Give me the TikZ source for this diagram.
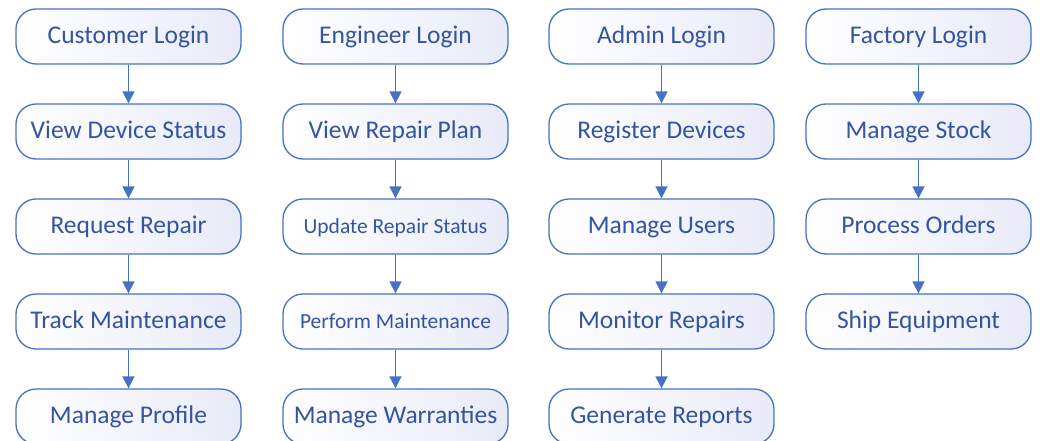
\documentclass[tikz,border=0pt]{standalone}
\usepackage{fontspec}
\setmainfont{Carlito}
\usetikzlibrary{arrows.meta}
\definecolor{bord}{RGB}{68,114,196}
\definecolor{txt}{RGB}{52,84,160}
\definecolor{fillr}{RGB}{232,235,248}
\tikzset{
  stepbox/.style={draw=bord, line width=1.3pt, rounded corners=20pt,
    minimum width=225pt, minimum height=55pt, inner sep=0pt,
    text height=18.5pt, text depth=4pt,
    left color=white, right color=fillr, text=txt, font=\fontsize{25.5}{28}\selectfont},
  smalltext/.style={font=\fontsize{21.5}{24}\selectfont, text height=16.5pt, text depth=3.5pt},
  conn/.style={draw=bord, line width=1.6pt, -{Triangle[width=12pt,length=12pt]}}
}
\begin{document}
\begin{tikzpicture}[x=1pt,y=-1pt]
\useasboundingbox (0,0) rectangle (1040,441);
% column 1
\node[stepbox] (c1) at (128.5,36.5) {Customer Login};
\node[stepbox] (c2) at (128.5,131.5) {View Device Status};
\node[stepbox] (c3) at (128.5,226.5) {Request Repair};
\node[stepbox] (c4) at (128.5,321.5) {Track Maintenance};
\node[stepbox] (c5) at (128.5,416.5) {Manage Profile};
% column 2
\node[stepbox] (e1) at (395.5,36.5) {Engineer Login};
\node[stepbox] (e2) at (395.5,131.5) {View Repair Plan};
\node[stepbox, smalltext] (e3) at (395.5,226.5) {Update Repair Status};
\node[stepbox, smalltext] (e4) at (395.5,321.5) {Perform Maintenance};
\node[stepbox] (e5) at (395.5,416.5) {Manage Warranties};
% column 3
\node[stepbox] (a1) at (661.5,36.5) {Admin Login};
\node[stepbox] (a2) at (661.5,131.5) {Register Devices};
\node[stepbox] (a3) at (661.5,226.5) {Manage Users};
\node[stepbox] (a4) at (661.5,321.5) {Monitor Repairs};
\node[stepbox] (a5) at (661.5,416.5) {Generate Reports};
% column 4
\node[stepbox] (f1) at (918.5,36.5) {Factory Login};
\node[stepbox] (f2) at (918.5,131.5) {Manage Stock};
\node[stepbox] (f3) at (918.5,226.5) {Process Orders};
\node[stepbox] (f4) at (918.5,321.5) {Ship Equipment};
% connectors
\foreach \p in {c,e,a}{
  \draw[conn] (\p1) -- (\p2);
  \draw[conn] (\p2) -- (\p3);
  \draw[conn] (\p3) -- (\p4);
  \draw[conn] (\p4) -- (\p5);
}
\draw[conn] (f1) -- (f2);
\draw[conn] (f2) -- (f3);
\draw[conn] (f3) -- (f4);
\end{tikzpicture}
\end{document}
